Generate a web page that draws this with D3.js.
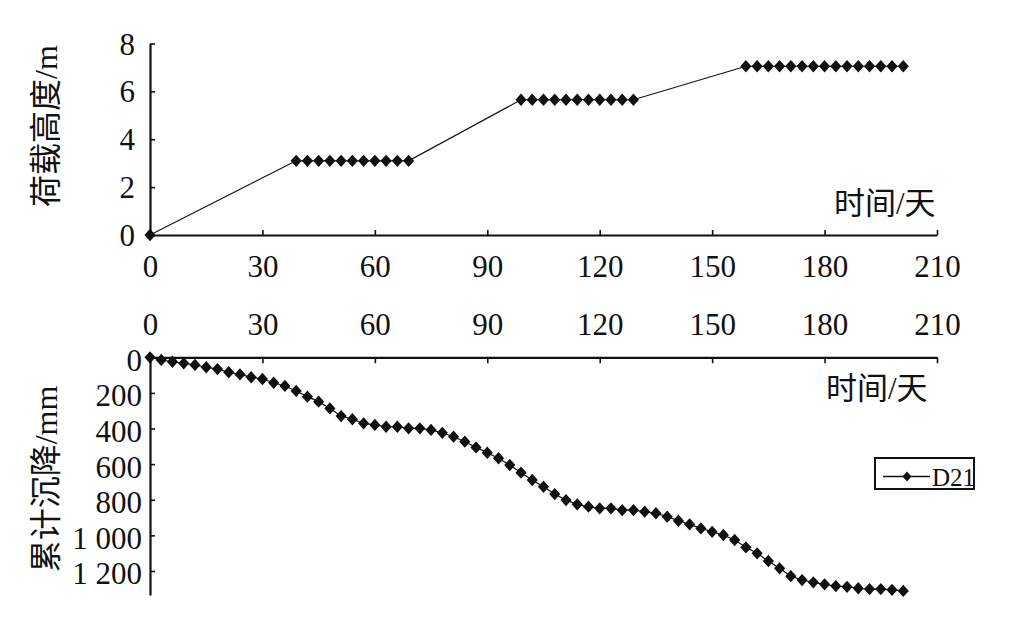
<!DOCTYPE html>
<html><head><meta charset="utf-8">
<script src="https://cdn.jsdelivr.net/npm/d3@7"></script>
<style>
body{margin:0;background:#fff} svg{display:block}
svg text{font-family:"Liberation Serif","DejaVu Serif","Noto Sans CJK SC",serif !important;}
</style>
</head><body><svg id="c" width="1024" height="620"></svg>
<script>
const xTicks = [0, 30, 60, 90, 120, 150, 180, 210];
const loadTicks = [0, 2, 4, 6, 8];
const settleTicks = [0, 200, 400, 600, 800, 1000, 1200];
const settleTickLabels = ["0", "200", "400", "600", "800", "1 000", "1 200"];
const seriesName = "D21";
const timeLabel = "时间/天";
const loadLabel = "荷载高度/m";
const settleLabel = "累计沉降/mm";

const loadDays = [0,
  39,42,45,48,51,54,57,60,63,66,69,
  99,102,105,108,111,114,117,120,123,126,129,
  159,162,165,168,171,174,177,180,183,186,189,192,195,198,201];
const loadHeights = [0,
  3.1,3.1,3.1,3.1,3.1,3.1,3.1,3.1,3.1,3.1,3.1,
  5.65,5.65,5.65,5.65,5.65,5.65,5.65,5.65,5.65,5.65,5.65,
  7.05,7.05,7.05,7.05,7.05,7.05,7.05,7.05,7.05,7.05,7.05,7.05,7.05,7.05,7.05];

const settleDays = [0,3,6,9,12,15,18,21,24,27,30,33,36,39,42,45,48,
  51,54,57,60,63,66,69,72,75,78,81,84,87,90,93,96,99,
  102,105,108,111,114,117,120,123,126,129,132,135,138,141,144,147,150,
  153,156,159,162,165,168,171,174,177,180,183,186,189,192,195,198,201];
const settleValues = [0,15,25,34,43,56,66,84,96,112,122,143,161,189,221,249,287,
  330,348,371,380,390,390,399,399,408,424,446,474,506,536,567,605,648,
  689,727,768,802,826,839,848,848,858,858,867,876,895,918,938,961,980,
  998,1026,1067,1101,1144,1185,1229,1251,1264,1275,1285,1289,1297,1302,1302,1306,1312];

const svg = d3.select("#c");
const ink = "#111";

const x = d3.scaleLinear().domain([0, 210]).range([150, 937]);
const yTop = d3.scaleLinear().domain([0, 8]).range([235, 43.5]);
const yBot = d3.scaleLinear().domain([0, 1335]).range([357.3, 595]);

const diamond = {draw(ctx, size){const r = Math.sqrt(size)/2; ctx.moveTo(0,-r*1.1); ctx.lineTo(r,0); ctx.lineTo(0,r*1.1); ctx.lineTo(-r,0); ctx.closePath();}};

function styleAxis(g){
  g.attr("font-family", null);
  g.selectAll("path.domain").attr("stroke", ink).attr("stroke-width", 2.2);
  g.selectAll(".tick line").attr("stroke", ink).attr("stroke-width", 1.6);
  g.selectAll("text").attr("font-size", 31).attr("fill", ink);
}

// ---------- top chart ----------
const gTopX = svg.append("g").attr("transform", `translate(0,${yTop(0)})`)
  .call(d3.axisBottom(x).tickValues(xTicks).tickFormat(d3.format("d")).tickSize(-5).tickSizeOuter(0).tickPadding(20));
styleAxis(gTopX);
const gTopY = svg.append("g").attr("transform", `translate(${x(0)},0)`)
  .call(d3.axisLeft(yTop).tickValues(loadTicks).tickFormat(d3.format("d")).tickSize(-5).tickSizeOuter(0).tickPadding(15));
styleAxis(gTopY);
gTopY.selectAll(".tick text").attr("dy", "0.34em");

const topPts = loadDays.map((d, i) => [d, loadHeights[i]]);
svg.append("path").datum(topPts)
  .attr("fill", "none").attr("stroke", ink).attr("stroke-width", 1.2)
  .attr("d", d3.line().x(d => x(d[0])).y(d => yTop(d[1])));
svg.append("g").selectAll("path").data(topPts).join("path")
  .attr("transform", d => `translate(${x(d[0])},${yTop(d[1])})`)
  .attr("d", d3.symbol().type(diamond).size(125)).attr("fill", ink);

svg.append("text").attr("x", 834).attr("y", 214).text(timeLabel)
  .attr("font-size", 31).attr("fill", ink);
svg.append("text").attr("transform", "translate(46,126) rotate(-90)")
  .attr("text-anchor", "middle").attr("dominant-baseline", "central")
  .text(loadLabel).attr("font-size", 32).attr("fill", ink);

// ---------- bottom chart ----------
const gBotX = svg.append("g").attr("transform", `translate(0,${yBot(0)})`)
  .call(d3.axisTop(x).tickValues(xTicks).tickFormat(d3.format("d")).tickSize(-6).tickSizeOuter(0).tickPadding(22));
styleAxis(gBotX);
const gBotY = svg.append("g").attr("transform", `translate(${x(0)},0)`)
  .call(d3.axisLeft(yBot).tickValues(settleTicks).tickFormat((d, i) => settleTickLabels[i]).tickSize(-5).tickSizeOuter(0).tickPadding(8));
styleAxis(gBotY);
gBotY.selectAll(".tick text").attr("dy", "0.42em");

const botPts = settleDays.map((d, i) => [d, settleValues[i]]);
svg.append("path").datum(botPts)
  .attr("fill", "none").attr("stroke", ink).attr("stroke-width", 1.2)
  .attr("d", d3.line().x(d => x(d[0])).y(d => yBot(d[1])));
svg.append("g").selectAll("path").data(botPts).join("path")
  .attr("transform", d => `translate(${x(d[0])},${yBot(d[1])})`)
  .attr("d", d3.symbol().type(diamond).size(125)).attr("fill", ink);

svg.append("text").attr("x", 826).attr("y", 399).text(timeLabel)
  .attr("font-size", 31).attr("fill", ink);
svg.append("text").attr("transform", "translate(46,479) rotate(-90)")
  .attr("text-anchor", "middle").attr("dominant-baseline", "central")
  .text(settleLabel).attr("font-size", 32).attr("fill", ink);

// legend
const lg = svg.append("g");
lg.append("rect").attr("x", 875).attr("y", 458).attr("width", 99).attr("height", 31)
  .attr("fill", "#fff").attr("stroke", ink).attr("stroke-width", 2);
lg.append("line").attr("x1", 883).attr("x2", 930).attr("y1", 476.5).attr("y2", 476.5)
  .attr("stroke", ink).attr("stroke-width", 1.4);
lg.append("path").attr("transform", "translate(907,476.5)")
  .attr("d", d3.symbol().type(diamond).size(80)).attr("fill", ink);
lg.append("text").attr("x", 932).attr("y", 486).text(seriesName)
  .attr("font-size", 25).attr("fill", ink);
</script>
</body></html>
